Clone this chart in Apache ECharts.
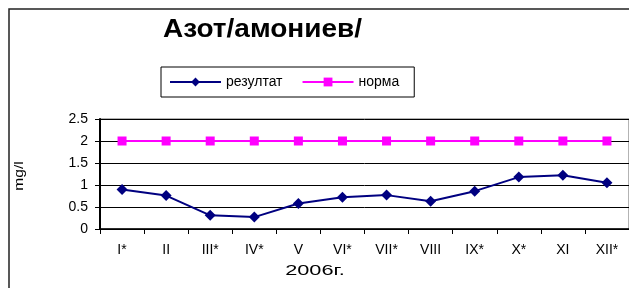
<!DOCTYPE html>
<html><head><meta charset="utf-8">
<script src="https://cdn.jsdelivr.net/npm/echarts@6/dist/echarts.min.js"></script>
<style>html,body{margin:0;padding:0;background:#fff}#c{width:629px;height:288px}</style>
</head><body><div id="c"></div>
<script>
const categories = ['I*','II','III*','IV*','V','VI*','VII*','VIII','IX*','X*','XI','XII*'];
const result = [0.90,0.76,0.31,0.27,0.58,0.72,0.77,0.63,0.86,1.18,1.22,1.05];
const norm = [2,2,2,2,2,2,2,2,2,2,2,2];
const yTicks = [0,0.5,1,1.5,2,2.5];
const F = 'Liberation Sans, Arial, sans-serif';
const chart = echarts.init(document.getElementById('c'));
chart.setOption({
  animation:false,
  backgroundColor:'#fff',
  legend:{left:161,top:67,padding:[8,15,8,8],borderColor:'#000',borderWidth:1,itemWidth:51,itemHeight:11,itemGap:19,
    textStyle:{fontFamily:F,fontSize:14,color:'#000'},data:['резултат','норма']},
  graphic:[
    {type:'rect',shape:{x:9,y:9,width:700,height:400},style:{fill:'none',stroke:'#222',lineWidth:1.5},silent:true},
    {type:'text',x:163,y:18,scaleX:1.12,style:{text:'Азот/амониев/',fontFamily:F,fontSize:25,fontWeight:'bold',fill:'#000',align:'left',verticalAlign:'top'}},
    {type:'text',x:315,y:271,scaleX:1.45,style:{text:'2006г.',fontFamily:F,fontSize:15,fill:'#000',align:'center',verticalAlign:'middle'}},
    {type:'text',x:20,y:176,rotation:Math.PI/2,scaleX:1.3,style:{text:'mg/l',fontFamily:F,fontSize:12,fill:'#000',align:'center',verticalAlign:'middle'}}
  ],
  grid:{left:100,top:119,width:533,height:110,show:true,borderColor:'#666',borderWidth:1},
  xAxis:{type:'category',data:categories,boundaryGap:true,
    axisLine:{lineStyle:{color:'#000',width:1.5}},
    axisTick:{show:true,length:5,lineStyle:{color:'#000'}},
    axisLabel:{fontFamily:F,fontSize:14,color:'#000',margin:14,interval:0}},
  yAxis:{type:'value',min:0,max:2.5,interval:0.5,
    axisLine:{show:true,lineStyle:{color:'#000',width:2}},
    axisTick:{show:true,length:5,lineStyle:{color:'#000'}},
    splitLine:{lineStyle:{color:'#000',width:1}},
    axisLabel:{fontFamily:F,fontSize:14,color:'#000',margin:12,formatter:v=>String(v)}},
  series:[
    {name:'резултат',type:'line',data:result,symbol:'diamond',symbolSize:11,
      lineStyle:{color:'#000080',width:2},itemStyle:{color:'#000080'}},
    {name:'норма',type:'line',data:norm,symbol:'rect',symbolSize:9,
      lineStyle:{color:'#FF00FF',width:2},itemStyle:{color:'#FF00FF'}}
  ]
});
</script></body></html>
